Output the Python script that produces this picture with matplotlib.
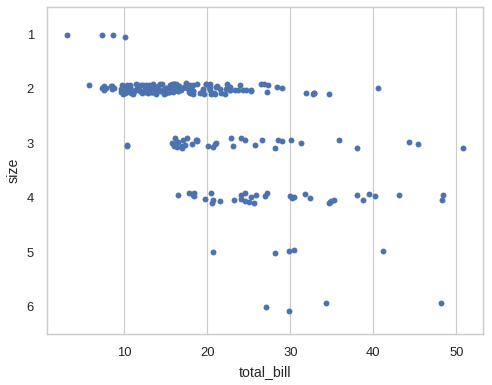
import numpy as np
import pandas as pd
import matplotlib
matplotlib.use("Agg")
import matplotlib.pyplot as plt
import seaborn as sns

total_bill = [
16.99,10.34,21.01,23.68,24.59,25.29,8.77,26.88,15.04,14.78,10.27,35.26,15.42,18.43,14.83,21.58,10.33,16.29,16.97,20.65,
17.92,20.29,15.77,39.42,19.82,17.81,13.37,12.69,21.7,19.65,9.55,18.35,15.06,20.69,17.78,24.06,16.31,16.93,18.69,31.27,
16.04,17.46,13.94,9.68,30.4,18.29,22.23,32.4,28.55,18.04,12.54,10.29,34.81,9.94,25.56,19.49,38.01,26.41,11.24,48.27,
20.29,13.81,11.02,18.29,17.59,20.08,16.45,3.07,20.23,15.01,12.02,17.07,26.86,25.28,14.73,10.51,17.92,27.2,22.76,17.29,
19.44,16.66,10.07,32.68,15.98,34.83,13.03,18.28,24.71,21.16,28.97,22.49,5.75,16.32,22.75,40.17,27.28,12.03,21.01,12.46,
11.35,15.38,44.3,22.42,20.92,15.36,20.49,25.21,18.24,14.31,14.0,7.25,38.07,23.95,25.71,17.31,29.93,10.65,12.43,24.08,
11.69,13.42,14.26,15.95,12.48,29.8,8.52,14.52,11.38,22.82,19.08,20.27,11.17,12.26,18.26,8.51,10.33,14.15,16.0,13.16,
17.47,34.3,41.19,27.05,16.43,8.35,18.64,11.87,9.78,7.51,14.07,13.13,17.26,24.55,19.77,29.85,48.17,25.0,13.39,16.49,
21.5,12.66,16.21,13.81,17.51,24.52,20.76,31.71,10.59,10.63,50.81,15.81,7.25,31.85,16.82,32.9,17.89,14.48,9.6,34.63,
34.65,23.33,45.35,23.17,40.55,20.69,20.9,30.46,18.15,23.1,15.69,19.81,28.44,15.48,16.58,7.56,10.34,43.11,13.0,13.51,
18.71,12.74,13.0,16.4,20.53,16.47,26.59,38.73,24.27,12.76,30.06,25.89,48.33,13.27,28.17,12.9,28.15,11.59,7.74,30.14,
12.16,13.42,8.58,15.98,13.42,16.27,10.09,20.45,13.28,22.12,24.01,15.69,11.61,10.77,15.53,10.07,12.6,32.83,35.83,29.03,
27.18,22.67,17.82,18.78]

size = [
2,3,3,2,4,4,2,4,2,2,2,4,2,4,2,2,3,3,3,3,
2,2,2,4,2,4,2,2,2,2,2,4,2,4,2,3,3,3,3,3,
3,2,2,2,4,2,2,4,3,2,2,2,4,2,4,2,4,2,2,4,
2,2,2,4,3,3,2,1,2,2,2,3,2,2,2,2,2,4,2,2,
2,2,1,2,2,4,2,2,2,2,2,2,2,2,2,4,2,2,2,2,
2,2,3,2,2,2,2,2,2,2,2,1,3,2,3,2,4,2,2,4,
2,2,2,2,2,6,2,2,2,3,2,2,2,2,2,2,2,2,2,2,
2,6,5,6,2,2,3,2,2,2,2,2,3,4,4,5,6,4,2,4,
4,2,3,2,2,3,2,4,2,2,3,2,2,2,2,2,2,2,2,2,
4,2,3,4,2,5,3,5,3,3,2,2,2,2,2,2,2,4,2,2,
3,2,2,2,4,3,3,4,2,2,3,4,4,2,3,2,5,2,2,4,
2,2,1,3,2,2,2,4,2,2,4,3,2,2,2,2,2,2,3,3,
2,2,2,2]

df = pd.DataFrame({"total_bill": total_bill, "size": size})

sns.set_theme(style="whitegrid")
plt.rcParams['font.family'] = ['Liberation Sans', 'DejaVu Sans']
s = 0.85
np.random.seed(0)
fig = plt.figure(figsize=(4.92, 3.85), dpi=100)
ax = fig.add_axes([47/492, 1-334/385, 436/492, 327/385])
sns.stripplot(data=df, x="total_bill", y="size", orient="h", ax=ax, size=5*s)
ax.xaxis.grid(True, color="0.8", linewidth=1.0*s)
ax.yaxis.grid(False)
for sp in ax.spines.values():
    sp.set_linewidth(1.25*s)
    sp.set_color("0.8")
ax.tick_params(labelsize=11*s, colors="0.15")
ax.set_xlabel("total_bill", fontsize=12*s, color="0.15")
ax.set_ylabel("size", fontsize=12*s, color="0.15")
fig.savefig("out.png", dpi=100)
